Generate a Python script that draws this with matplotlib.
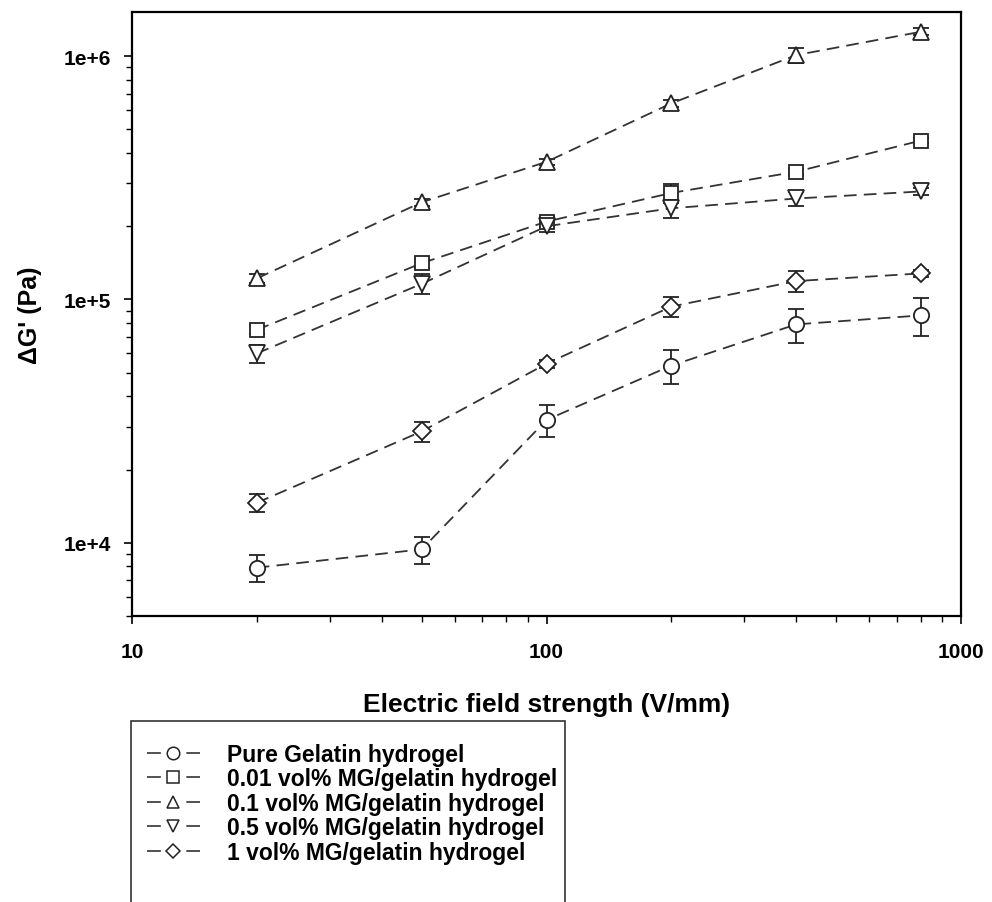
import numpy as np
import matplotlib
matplotlib.use("Agg")
import matplotlib.pyplot as plt
from matplotlib.patches import Rectangle
from matplotlib.lines import Line2D

plt.rcParams['font.family'] = ['Liberation Sans', 'DejaVu Sans']
plt.rcParams['font.weight'] = 'bold'
plt.rcParams['axes.labelweight'] = 'bold'

# data (log-log)
field = [20, 50, 100, 200, 400, 800]

labels = ["Pure Gelatin hydrogel",
          "0.01 vol% MG/gelatin hydrogel",
          "0.1 vol% MG/gelatin hydrogel",
          "0.5 vol% MG/gelatin hydrogel",
          "1 vol% MG/gelatin hydrogel"]
markers = ["o", "s", "^", "v", "D"]

g_pure = [7.9e3, 9.4e3, 3.2e4, 5.35e4, 7.9e4, 8.6e4]
g_001 = [7.5e4, 1.41e5, 2.09e5, 2.74e5, 3.35e5, 4.5e5]
g_01 = [1.22e5, 2.51e5, 3.68e5, 6.4e5, 1.01e6, 1.26e6]
g_05 = [6.0e4, 1.16e5, 2.0e5, 2.37e5, 2.6e5, 2.78e5]
g_1 = [1.46e4, 2.87e4, 5.45e4, 9.35e4, 1.19e5, 1.28e5]

e_pure = [1.0e3, 1.2e3, 4.7e3, 8.5e3, 1.27e4, 1.55e4]
e_001 = [3e3, 6e3, 1.0e4, 2.5e4, 1.0e4, 1.0e4]
e_01 = [5e3, 8e3, 1.0e4, 2.0e4, 7e4, 4e4]
e_05 = [5e3, 1.1e4, 1.0e4, 2.0e4, 1.7e4, 8e3]
e_1 = [1.2e3, 2.8e3, 2.0e3, 8.6e3, 1.2e4, 4e3]

series = [g_pure, g_001, g_01, g_05, g_1]
errors = [e_pure, e_001, e_01, e_05, e_1]

fig = plt.figure(figsize=(9.92, 9.03), dpi=100)
ax = fig.add_axes([0.133, 0.3167, 0.836, 0.669])

handles = []
for y, err, m, lab in zip(series, errors, markers, labels):
    ms = 9 if m == "D" else (10 if m == "s" else 11)
    ax.errorbar(field, y, yerr=err, fmt=m, linestyle=(0, (7, 4)),
                color='#333333', lw=1.3, ms=ms,
                mfc='white', mec='#222222', mew=1.3,
                ecolor='#222222', elinewidth=1.3, capsize=6, capthick=1.3)
    # legend sample: short dash, marker, short dash
    handles.append(Line2D([], [], color='#333333', lw=1.2, linestyle=(0, (8.3, 15.3)),
                          marker=m, ms=7.5 if m == "D" else 9,
                          mfc='white', mec='#222222', mew=1.1))

ax.set_xscale('log')
ax.set_yscale('log')
ax.set_xlim(10, 1000)
ax.set_ylim(5000, 1.52e6)
ax.set_xticks([10, 100, 1000])
ax.set_xticklabels(["10", "100", "1000"])
ax.set_yticks([1e4, 1e5, 1e6])
ax.set_yticklabels(["1e+4", "1e+5", "1e+6"])
ax.tick_params(axis='both', which='major', labelsize=15, length=6, width=1.2, direction='out')
ax.tick_params(axis='x', which='major', pad=13)
ax.tick_params(axis='y', which='major', pad=9)
ax.tick_params(axis='both', which='minor', length=4, width=1.0, direction='out')
ax.tick_params(top=False, right=False, which='both')
for s in ax.spines.values():
    s.set_linewidth(1.6)

ax.set_xlabel("Electric field strength (V/mm)", fontsize=19, labelpad=22)
ax.set_ylabel("\u0394G' (Pa)", fontsize=18, labelpad=16)

# legend box below the plot, cut by the bottom edge as in the scan
fig.patches.append(Rectangle((0.132, -0.02), 0.4375, 0.2204, transform=fig.transFigure,
                             fill=False, ec='#333333', lw=1.2))
leg = fig.legend(handles=handles, labels=labels, loc='upper left',
                 bbox_to_anchor=(0.148, 0.1765), frameon=False, fontsize=16.5,
                 handlelength=2.3, labelspacing=0.07, handletextpad=1.2,
                 borderaxespad=0, borderpad=0)

fig.savefig("out.png", dpi=100)
